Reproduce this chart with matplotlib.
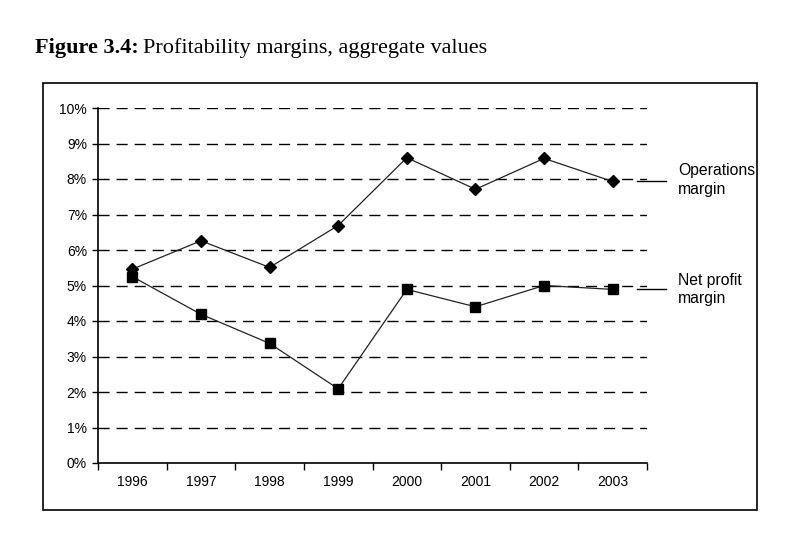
import matplotlib
matplotlib.use("Agg")
import matplotlib.pyplot as plt
from matplotlib.patches import Rectangle
from matplotlib.ticker import FuncFormatter, FixedLocator

years = ["1996", "1997", "1998", "1999", "2000", "2001", "2002", "2003"]
operations_margin = [5.46, 6.26, 5.51, 6.69, 8.60, 7.71, 8.58, 7.93]
net_profit_margin = [5.25, 4.19, 3.37, 2.09, 4.89, 4.40, 5.00, 4.89]
series_labels = ["Operations\nmargin", "Net profit\nmargin"]

plt.rcParams['font.family'] = ['Liberation Sans', 'DejaVu Sans']

fig = plt.figure(figsize=(7.89, 5.49), dpi=100)
ax = fig.add_axes([98/789, 86/549, 549/789, 355/549])

x = list(range(len(years)))
ax.plot(x, operations_margin, color='#222222', lw=0.9, marker='D', ms=6.5,
        mfc='black', mec='black', zorder=3)
ax.plot(x, net_profit_margin, color='#222222', lw=0.9, marker='s', ms=7,
        mfc='black', mec='black', zorder=3)

ax.set_xlim(-0.5, len(years) - 0.5)
ax.set_ylim(0, 10)
ax.set_yticks(range(0, 11))
ax.yaxis.set_major_formatter(FuncFormatter(lambda v, p: '%d%%' % v))
for v in range(1, 11):
    ax.axhline(v, color='black', lw=1, ls=(0, (8, 5)), zorder=1)

# category boundaries carry the tick marks, centres carry the labels
ax.xaxis.set_major_locator(FixedLocator([i - 0.5 for i in range(len(years) + 1)]))
ax.xaxis.set_minor_locator(FixedLocator(x))
ax.set_xticklabels([''] * (len(years) + 1))
ax.set_xticklabels(years, minor=True)
ax.tick_params(axis='x', which='major', length=5, width=1, direction='out')
ax.tick_params(axis='x', which='minor', length=0, pad=9, labelsize=10)
ax.tick_params(axis='y', length=4, width=1, direction='out', pad=4, labelsize=10)

for s in ['top', 'right']:
    ax.spines[s].set_visible(False)
for s in ['left', 'bottom']:
    ax.spines[s].set_linewidth(1.2)

# series labels on the right
for vals, lab, dy in zip([operations_margin, net_profit_margin], series_labels, [0.05, 0.0]):
    ax.plot([7.36, 7.78], [vals[-1], vals[-1]], color='black', lw=1, clip_on=False)
    ax.text(7.95, vals[-1] + dy, lab, fontsize=11.3, ha='left', va='center',
            linespacing=1.3, clip_on=False)

# outer frame
fig.patches.append(Rectangle((43/789, 39/549), 714/789, 427/549, transform=fig.transFigure,
                             fill=False, edgecolor='black', lw=1.2))

fig.text(35/789, 1 - 48/549, 'Figure 3.4:', fontsize=16, fontweight='bold',
         family='Liberation Serif', va='center', ha='left')
fig.text(143/789, 1 - 48/549, 'Profitability margins, aggregate values', fontsize=16,
         family='Liberation Serif', va='center', ha='left')

fig.savefig('out.png', dpi=100, facecolor='white')
